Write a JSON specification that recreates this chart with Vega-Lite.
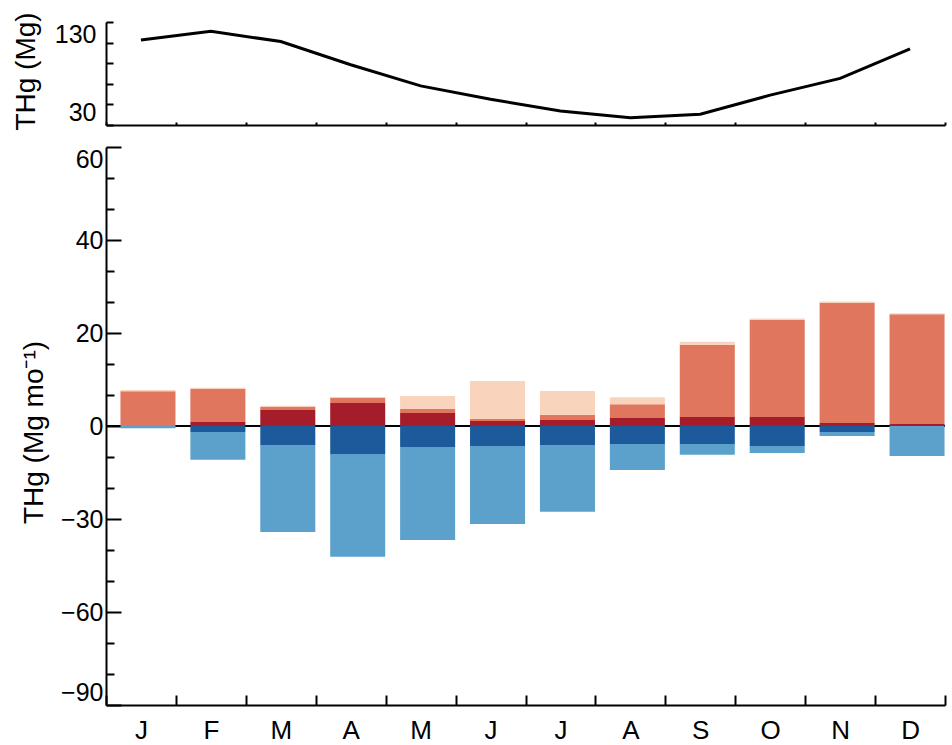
{
  "$schema": "https://vega.github.io/schema/vega-lite/v6.json",
  "background": "white",
  "padding": {"left": 12, "top": 11, "right": 5, "bottom": 5},
  "bounds": "flush",
  "spacing": 22,
  "config": {
    "font": "Liberation Sans",
    "view": {"stroke": null},
    "axis": {
      "domainColor": "black", "tickColor": "black", "domainWidth": 2, "tickWidth": 2,
      "labelColor": "black", "titleColor": "black", "labelFont": "Liberation Sans",
      "titleFont": "Liberation Sans", "titleFontWeight": "normal", "grid": false,
      "labelOverlap": false, "labelBound": false
    }
  },
  "datasets": {
    "storage": [
      {"month": "Jan", "thg": 112.5}, {"month": "Feb", "thg": 121}, {"month": "Mar", "thg": 111},
      {"month": "Apr", "thg": 88.5}, {"month": "May", "thg": 68}, {"month": "Jun", "thg": 55},
      {"month": "Jul", "thg": 43.6}, {"month": "Aug", "thg": 37}, {"month": "Sep", "thg": 40.4},
      {"month": "Oct", "thg": 59}, {"month": "Nov", "thg": 75.3}, {"month": "Dec", "thg": 104}
    ],
    "flux": [
      {"month": "Jan", "series": "n1", "value": 0}, {"month": "Jan", "series": "n2", "value": -0.7}, {"month": "Jan", "series": "p1", "value": 0}, {"month": "Jan", "series": "p2", "value": 7.5}, {"month": "Jan", "series": "p3", "value": 0.22},
      {"month": "Feb", "series": "n1", "value": -1.9}, {"month": "Feb", "series": "n2", "value": -9.0}, {"month": "Feb", "series": "p1", "value": 0.85}, {"month": "Feb", "series": "p2", "value": 7.1}, {"month": "Feb", "series": "p3", "value": 0.25},
      {"month": "Mar", "series": "n1", "value": -6.1}, {"month": "Mar", "series": "n2", "value": -28.1}, {"month": "Mar", "series": "p1", "value": 3.45}, {"month": "Mar", "series": "p2", "value": 0.65}, {"month": "Mar", "series": "p3", "value": 0.25},
      {"month": "Apr", "series": "n1", "value": -9.0}, {"month": "Apr", "series": "n2", "value": -33.2}, {"month": "Apr", "series": "p1", "value": 4.95}, {"month": "Apr", "series": "p2", "value": 1.05}, {"month": "Apr", "series": "p3", "value": 0.25},
      {"month": "May", "series": "n1", "value": -6.8}, {"month": "May", "series": "n2", "value": -30.0}, {"month": "May", "series": "p1", "value": 2.8}, {"month": "May", "series": "p2", "value": 0.85}, {"month": "May", "series": "p3", "value": 2.8},
      {"month": "Jun", "series": "n1", "value": -6.45}, {"month": "Jun", "series": "n2", "value": -25.2}, {"month": "Jun", "series": "p1", "value": 1.05}, {"month": "Jun", "series": "p2", "value": 0.45}, {"month": "Jun", "series": "p3", "value": 8.2},
      {"month": "Jul", "series": "n1", "value": -6.1}, {"month": "Jul", "series": "n2", "value": -21.6}, {"month": "Jul", "series": "p1", "value": 1.3}, {"month": "Jul", "series": "p2", "value": 1.1}, {"month": "Jul", "series": "p3", "value": 5.15},
      {"month": "Aug", "series": "n1", "value": -5.8}, {"month": "Aug", "series": "n2", "value": -8.4}, {"month": "Aug", "series": "p1", "value": 1.7}, {"month": "Aug", "series": "p2", "value": 3.0}, {"month": "Aug", "series": "p3", "value": 1.5},
      {"month": "Sep", "series": "n1", "value": -5.8}, {"month": "Sep", "series": "n2", "value": -3.5}, {"month": "Sep", "series": "p1", "value": 1.95}, {"month": "Sep", "series": "p2", "value": 15.5}, {"month": "Sep", "series": "p3", "value": 0.65},
      {"month": "Oct", "series": "n1", "value": -6.45}, {"month": "Oct", "series": "n2", "value": -2.25}, {"month": "Oct", "series": "p1", "value": 1.95}, {"month": "Oct", "series": "p2", "value": 20.9}, {"month": "Oct", "series": "p3", "value": 0.25},
      {"month": "Nov", "series": "n1", "value": -1.95}, {"month": "Nov", "series": "n2", "value": -1.3}, {"month": "Nov", "series": "p1", "value": 0.65}, {"month": "Nov", "series": "p2", "value": 25.8}, {"month": "Nov", "series": "p3", "value": 0.35},
      {"month": "Dec", "series": "n1", "value": 0}, {"month": "Dec", "series": "n2", "value": -9.7}, {"month": "Dec", "series": "p1", "value": 0.45}, {"month": "Dec", "series": "p2", "value": 23.6}, {"month": "Dec", "series": "p3", "value": 0.2}
    ]
  },
  "vconcat": [
    {
      "width": 839,
      "height": 103,
      "data": {"name": "storage"},
      "mark": {"type": "line", "color": "black", "strokeWidth": 3},
      "encoding": {
        "x": {
          "field": "month", "type": "ordinal",
          "sort": ["Jan","Feb","Mar","Apr","May","Jun","Jul","Aug","Sep","Oct","Nov","Dec"],
          "scale": {"type": "band", "paddingInner": 0, "paddingOuter": 0},
          "axis": {"title": null, "labels": false, "tickBand": "extent", "tickSize": -3}
        },
        "y": {
          "field": "thg", "type": "quantitative",
          "scale": {"domain": [30, 130], "nice": false, "zero": false},
          "axis": {
            "values": [30, 50, 70, 90, 110, 130], "tickCount": 50,
            "labelExpr": "datum.value == 30 || datum.value == 130 ? datum.label : ''",
            "tickSize": -7, "labelFontSize": 25, "labelPadding": 17, "labelFlush": true,
            "title": "THg (Mg)", "titleFontSize": 28, "titleX": -66, "titleY": 49
          }
        }
      }
    },
    {
      "width": 839,
      "height": 558,
      "layer": [
        {
          "data": {"values": [{}]},
          "mark": {"type": "rule", "color": "black", "strokeWidth": 2},
          "encoding": {"y": {"datum": 0}}
        },
        {
          "data": {"name": "flux"},
          "mark": {"type": "bar", "width": {"band": 0.787}, "xOffset": 7},
          "encoding": {
            "x": {
              "field": "month", "type": "ordinal",
              "sort": ["Jan","Feb","Mar","Apr","May","Jun","Jul","Aug","Sep","Oct","Nov","Dec"],
              "scale": {"type": "band", "paddingInner": 0, "paddingOuter": 0},
              "axis": {
                "title": null, "tickBand": "extent", "tickSize": -10,
                "labelExpr": "substring(datum.label, 0, 1)", "labelFontSize": 26,
                "labelPadding": 22, "labelAngle": 0
              }
            },
            "y": {
              "field": "value", "type": "quantitative", "stack": "zero",
              "scale": {"domain": [-90, 0, 60], "range": [558, 279, 0], "nice": false, "zero": false},
              "axis": {
                "values": [60, 53.333, 46.667, 40, 33.333, 26.667, 20, 13.333, 6.667, 0, -10, -20, -30, -40, -50, -60, -70, -80, -90],
                "tickCount": 100,
                "format": "d",
                "labelExpr": "indexof([60,40,20,0,-30,-60,-90], datum.value) >= 0 ? datum.label : ''",
                "tickSize": {"condition": {"test": "indexof([60,40,20,0,-30,-60,-90], datum.value) >= 0", "value": -15}, "value": -8},
                "labelFontSize": 25, "labelPadding": 18, "labelFlush": true,
                "title": "THg (Mg mo⁻¹)", "titleFontSize": 28, "titleX": -58, "titleY": 285
              }
            },
            "color": {
              "field": "series", "type": "nominal", "legend": null,
              "scale": {"domain": ["n1", "n2", "p1", "p2", "p3"], "range": ["#1c5a9b", "#5ba1cb", "#a51d2a", "#e0765d", "#fad3bd"]}
            },
            "order": {"field": "series"}
          }
        }
      ]
    }
  ]
}
